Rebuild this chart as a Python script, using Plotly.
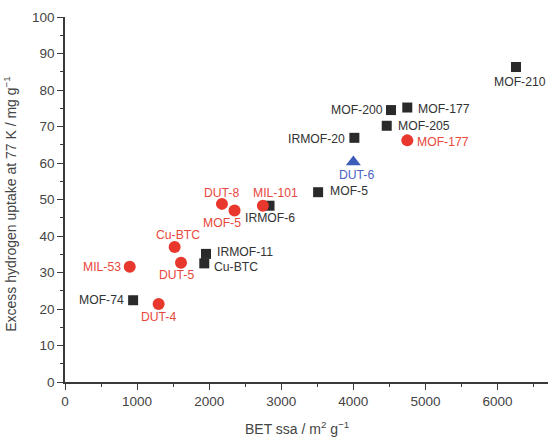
import plotly.graph_objects as go

# ---- data ----
black_names = ["MOF-210", "MOF-177", "MOF-200", "MOF-205", "IRMOF-20", "MOF-5",
               "IRMOF-6", "IRMOF-11", "Cu-BTC", "MOF-74"]
black_x = [6256, 4748, 4522, 4463, 4014, 3511, 2837, 1956, 1932, 945]
black_y = [86.3, 75.2, 74.5, 70.2, 66.9, 52.0, 48.3, 35.1, 32.5, 22.4]

red_names = ["MOF-177", "MIL-101", "DUT-8", "MOF-5", "Cu-BTC", "DUT-5", "MIL-53", "DUT-4"]
red_x = [4748, 2745, 2177, 2352, 1521, 1609, 898, 1299]
red_y = [66.2, 48.3, 48.8, 47.0, 37.0, 32.7, 31.6, 21.4]

blue_names = ["DUT-6"]
blue_x = [4000]
blue_y = [60.3]

x_ticks = [0, 1000, 2000, 3000, 4000, 5000, 6000]
y_ticks = [0, 10, 20, 30, 40, 50, 60, 70, 80, 90, 100]

x_title = "BET ssa / m<sup>2</sup> g<sup>−1</sup>"
y_title = "Excess hydrogen uptake at 77 K / mg g<sup>−1</sup>"

# ---- styles ----
BLACK = "#2a2a2a"
RED = "#e8372c"
RED_TXT = "#e8473b"
BLUE = "#3b5cb8"
BLUE_TXT = "#4a62c4"
FONT = "Liberation Sans, Arial, sans-serif"

# label offsets (xanchor, xshift, yshift) in pixels
black_off = {
    "MOF-210": ("center", 4, -15), "MOF-177": ("left", 10, -1), "MOF-200": ("right", -7, 0),
    "MOF-205": ("left", 10, 0), "IRMOF-20": ("right", -8, -1), "MOF-5": ("left", 11, 1),
    "IRMOF-6": ("center", 0, -12), "IRMOF-11": ("left", 10, 1.5), "Cu-BTC": ("left", 9, -4),
    "MOF-74": ("right", -8, 0),
}
red_off = {
    "MOF-177": ("left", 9, -2), "MIL-101": ("center", 13, 13), "DUT-8": ("center", 0, 11),
    "MOF-5": ("center", -13, -13), "Cu-BTC": ("center", 3, 12), "DUT-5": ("center", -4, -12),
    "MIL-53": ("right", -8, 0), "DUT-4": ("center", 0, -13),
}
blue_off = {"DUT-6": ("center", 3, -13)}

fig = go.Figure()
fig.add_trace(go.Scatter(x=black_x, y=black_y, mode="markers",
                         marker=dict(symbol="square", size=10, color=BLACK), showlegend=False))
fig.add_trace(go.Scatter(x=red_x, y=red_y, mode="markers",
                         marker=dict(symbol="circle", size=12, color=RED), showlegend=False))
fig.add_trace(go.Scatter(x=blue_x, y=blue_y, mode="markers",
                         marker=dict(symbol="triangle-up", size=13, color=BLUE), showlegend=False))

annotations = []
for names, xs, ys, offs, col in [(black_names, black_x, black_y, black_off, "#333333"),
                                  (red_names, red_x, red_y, red_off, RED_TXT),
                                  (blue_names, blue_x, blue_y, blue_off, BLUE_TXT)]:
    for n, x, y in zip(names, xs, ys):
        xa, xs_, ys_ = offs[n]
        annotations.append(dict(x=x, y=y, text=n, showarrow=False, xanchor=xa, yanchor="middle",
                                xshift=xs_, yshift=ys_, borderpad=0,
                                font=dict(family=FONT, size=12.2, color=col)))

annotations.append(dict(xref="paper", yref="paper", x=0.4806, y=-0.1255, text=x_title,
                        showarrow=False, xanchor="center", yanchor="middle",
                        font=dict(family=FONT, size=14, color="#444444")))
annotations.append(dict(xref="paper", yref="paper", x=-0.1127, y=0.487, text=y_title,
                        showarrow=False, xanchor="center", yanchor="middle", textangle=-90,
                        font=dict(family=FONT, size=14, color="#444444")))

axis_common = dict(showline=True, linecolor="#3a3a3a", linewidth=1.5, ticks="outside",
                   ticklen=6, tickwidth=1.3, tickcolor="#3a3a3a", showgrid=False, zeroline=False,
                   tickfont=dict(family=FONT, size=13.5, color="#444444"))

fig.update_layout(
    width=558, height=437, margin=dict(l=64.5, r=9.7, t=12.7, b=55.3),
    plot_bgcolor="white", paper_bgcolor="white",
    annotations=annotations,
    xaxis=dict(range=[0, 6700], tickvals=x_ticks, ticktext=[str(v) for v in x_ticks],
               minor=dict(ticks="outside", ticklen=3, tickwidth=1.1,
                          tickcolor="#3a3a3a", dtick=500, tick0=0),
               **axis_common),
    yaxis=dict(range=[0, 100], tickvals=y_ticks, ticktext=[str(v) for v in y_ticks],
               minor=dict(ticks="outside", ticklen=3, tickwidth=1.1,
                          tickcolor="#3a3a3a", dtick=5, tick0=0),
               **axis_common),
)

fig.write_html("out.html")
